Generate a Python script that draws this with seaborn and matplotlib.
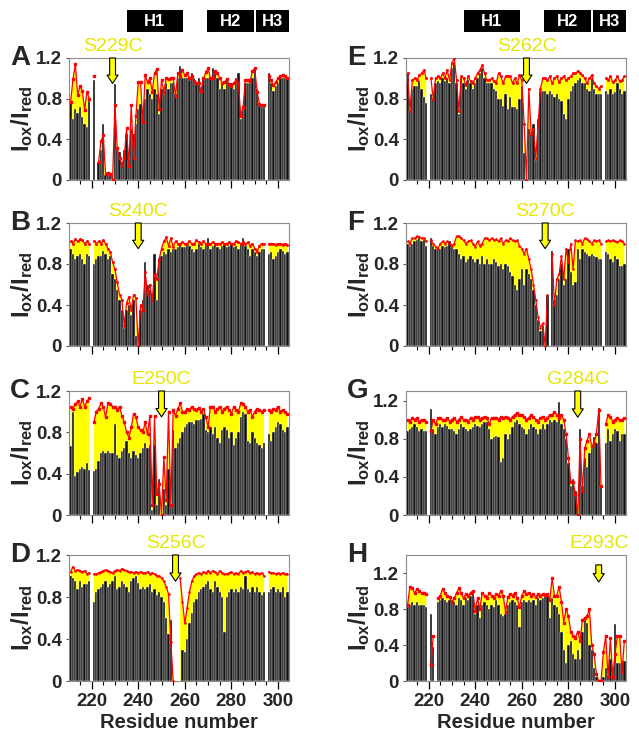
import numpy as np
import pandas as pd
import matplotlib
matplotlib.use("Agg")
import matplotlib.pyplot as plt
import seaborn as sns

N = None
residues = np.arange(211, 305)

# Iox/Ired per residue (211..304), black bars and red line for each mutant
a_bar = [0.76, 0.6, 0.7, 0.66, 0.72, 0.62, 0.55, 0.52, 0.78, N,
         0.98, N, 0.18, 0.3, 0.55, 0.05, 0.06, 0.05, 0.0, 0.94,
         0.3, 0.28, 0.15, 0.3, 0.45, 0.2, 0.5, 0.45, 0.55, 0.7,
         0.75, 0.65, 0.8, 0.9, 0.85, 0.8, 0.9, 0.85, 0.65, 0.9,
         0.85, 0.95, 0.9, 0.95, 0.95, 0.85, 1.0, 1.12, 1.0, 1.0,
         1.0, 0.98, 1.05, 1.0, 0.95, 1.0, 0.88, 1.0, 1.0, 1.0,
         1.0, 1.1, 1.05, 1.0, 0.9, 0.95, 0.9, 1.0, 0.95, 0.95,
         0.9, 1.0, 1.05, 0.6, 0.7, 0.95, 0.95, 0.95, 1.0, 1.1,
         0.9, 0.73, 0.72, 0.72, N, 1.05, 0.95, 0.88, 0.92, 0.95,
         1.0, 1.0, 1.0, 1.0]
a_red = [0.77, 0.99, 1.14, 0.84, 0.92, 0.88, 0.69, 0.87, 0.80, N,
         1.02, N, 0.18, 0.38, 0.44, 0.06, 0.07, 0.06, 0.0, 0.74,
         0.31, 0.22, 0.15, 0.22, 0.51, 0.14, 0.74, 0.22, 0.63, 0.96,
         0.96, 0.57, 1.03, 0.96, 1.0, 0.87, 1.05, 1.09, 0.7, 0.98,
         0.87, 1.0, 0.99, 1.0, 1.0, 0.83, 1.05, 1.02, 1.08, 1.03,
         1.05, 1.0, 1.02, 0.97, 0.95, 0.95, 0.88, 1.0, 1.06, 1.1,
         1.0, 1.0, 1.07, 1.05, 1.0, 0.95, 0.96, 0.99, 0.94, 0.92,
         0.95, 0.98, 0.95, 0.63, 0.72, 0.98, 0.98, 0.97, 1.07, 1.1,
         0.87, 0.75, 0.74, 0.74, N, 1.02, 0.98, 0.93, 0.96, 1.0,
         1.02, 1.03, 1.02, 1.0]

b_bar = [0.95, 0.9, 0.85, 0.88, 0.9, 0.85, 0.8, 0.9, 0.88, N,
         0.8, 0.85, 0.88, 0.88, 0.93, 0.9, 0.85, 0.88, 0.7, 0.65,
         0.55, 0.45, 0.35, 0.18, 0.35, 0.4, 0.3, 0.45, 0.1, 0.0,
         0.35, 0.45, 0.82, 0.6, 0.55, 0.5, 0.9, 0.45, 0.85, 0.88,
         0.92, 0.9, 0.95, 0.92, 0.95, 0.95, 0.97, 1.0, 0.97, 0.97,
         1.0, 0.98, 0.95, 0.92, 0.95, 1.0, 0.97, 0.95, 1.0, 1.05,
         0.95, 0.98, 1.0, 0.97, 0.95, 0.98, 1.0, 0.97, 0.98, 1.0,
         0.97, 0.98, 0.95, 1.0, 1.05, 0.98, 0.95, 0.88, 0.95, 0.92,
         0.88, 0.92, 0.95, 0.95, N, 0.9, 0.92, 0.85, 0.88, 0.92,
         0.95, 0.93, 0.9, 0.92]
b_red = [1.02, 1.0, 1.04, 1.02, 1.04, 1.03, 1.0, 1.02, 1.0, N,
         1.02, 1.0, 1.02, 1.0, 1.03, 1.0, 0.95, 0.92, 0.82, 0.75,
         0.62, 0.5, 0.45, 0.2, 0.42, 0.48, 0.35, 0.5, 0.47, 0.0,
         0.4, 0.35, 0.72, 0.5, 0.6, 0.45, 0.7, 0.65, 0.85, 0.95,
         1.02, 1.06, 0.98, 1.05, 0.97, 1.02, 1.0, 1.0, 1.01, 1.0,
         1.0, 1.02, 1.0, 1.0, 1.03, 1.01, 1.0, 1.02, 1.0, 1.0,
         1.0, 1.01, 1.0, 1.0, 1.0, 1.01, 1.0, 1.0, 1.01, 1.0,
         1.0, 1.02, 1.01, 1.0, 1.01, 1.0, 1.01, 0.98, 1.0, 0.95,
         0.92, 0.98, 1.0, 1.0, N, 1.0, 1.0, 1.0, 0.99, 1.0,
         1.0, 0.99, 1.0, 0.99]

c_bar = [0.67, 1.0, 0.38, 0.42, 0.45, 0.46, 0.45, 0.5, 0.44, N,
         0.43, 0.45, 0.52, 0.6, 0.62, 0.6, 0.62, 0.6, 0.6, 0.88,
         0.58, 0.55, 0.62, 0.65, 0.72, 0.6, 0.55, 0.62, 0.58, 0.55,
         0.6, 0.65, 0.7, 0.65, 0.68, 0.05, 0.68, 0.1, 0.35, 0.0,
         0.25, 0.1, 0.45, 0.08, 0.82, 0.65, 0.7, 0.75, 0.8, 0.85,
         0.88, 0.9, 0.9, 0.88, 0.92, 0.92, 0.93, 0.98, 0.82, 0.8,
         0.85, 0.78, 0.85, 0.75, 0.7, 0.82, 0.85, 0.82, 0.75, 0.8,
         0.68, 0.75, 0.8, 0.95, 1.0, 0.98, 0.72, 0.7, 0.8, 0.75,
         0.7, 0.68, 0.65, 0.7, N, 0.78, 0.72, 0.8, 0.85, 0.9,
         0.88, 0.82, 0.8, 0.85]
c_red = [1.05, 1.03, 1.07, 1.1, 1.05, 1.12, 1.05, 1.1, 1.13, N,
         0.9, 1.0, 1.03, 1.08, 1.05, 0.95, 1.08, 1.07, 1.05, 1.05,
         1.02, 1.05, 0.96, 0.9, 0.8, 0.75, 0.85, 0.98, 0.95, 0.85,
         0.82, 0.8, 0.9, 0.78, 0.96, 0.1, 0.96, 0.2, 0.3, 0.0,
         0.56, 0.15, 1.0, 0.1, 1.02, 0.96, 1.03, 1.08, 1.0, 1.0,
         1.03, 1.02, 1.05, 1.03, 1.02, 1.04, 1.0, 1.03, 0.95, 0.85,
         1.05, 1.05, 1.0, 1.03, 1.05, 1.0, 1.03, 1.05, 1.02, 0.98,
         1.05, 1.02, 1.0, 1.08, 1.07, 1.05, 1.0, 1.02, 0.95, 1.0,
         1.03, 1.02, 1.0, 1.02, N, 1.02, 1.0, 1.03, 1.02, 1.05,
         1.0, 1.02, 1.0, 0.98]

d_bar = [1.0, 0.98, 0.95, 0.88, 0.95, 0.9, 0.92, 0.92, 0.95, N,
         0.75, 0.85, 0.88, 0.9, 0.92, 0.95, 0.9, 0.92, 0.95, 1.0,
         0.88, 0.9, 0.95, 0.92, 0.9, 0.85, 0.95, 0.98, 1.0, 0.93,
         0.88, 0.9, 0.88, 0.9, 0.92, 0.85, 0.88, 0.82, 0.85, 0.8,
         0.75, 0.6, 0.45, 0.58, 0.0, N, N, N, 0.3, 0.28,
         0.4, 0.55, 0.65, 0.75, 0.78, 0.85, 0.88, 0.9, 0.92, 0.95,
         0.88, 0.85, 0.95, 0.9, 0.85, 0.8, 0.47, 0.8, 0.85, 0.88,
         0.85, 0.88, 0.85, 0.9, 0.88, 1.0, 0.88, 0.85, 0.9, 0.85,
         0.9, 0.85, 0.82, 0.85, N, 0.85, 0.88, 0.9, 0.85, 0.88,
         0.85, 0.9, 0.8, 0.85]
d_red = [1.04, 1.09, 1.05, 1.06, 1.05, 1.04, 1.05, 1.02, 1.03, N,
         1.02, 1.02, 1.03, 1.04, 1.05, 1.06, 1.05, 1.04, 1.03, 1.05,
         1.06, 1.05, 1.07, 1.06, 1.05, 1.04, 1.04, 1.03, 1.04, 1.03,
         1.04, 1.03, 1.03, 1.04, 1.02, 1.03, 1.02, 1.0, 1.0, 0.98,
         0.95, 0.9, 0.83, 0.37, 0.0, N, N, 0.98, 0.75, 0.55,
         0.7, 0.85, 0.95, 1.0, 1.02, 1.03, 1.02, 1.04, 1.03, 1.05,
         1.03, 1.05, 1.04, 1.02, 1.05, 1.03, 1.02, 1.02, 1.03, 1.04,
         1.02, 1.03, 1.02, 1.05, 1.03, 1.04, 1.05, 1.03, 1.04, 1.02,
         1.03, 1.02, 1.03, 1.0, N, 1.04, 1.03, 1.03, 1.02, 1.03,
         1.02, 1.03, 1.02, 1.02]

e_bar = [1.05, 0.68, 0.9, 0.92, 0.92, 0.97, 0.9, 0.82, 0.76, N,
         0.85, 0.8, 0.95, 0.97, 0.95, 1.0, 0.97, 1.0, 0.95, 1.1,
         1.15, 0.95, 0.65, 1.0, 0.95, 0.9, 0.98, 0.95, 0.9, 0.95,
         1.0, 1.05, 1.1, 1.0, 0.95, 0.95, 0.95, 0.9, 0.88, 0.8,
         0.8, 0.73, 0.85, 0.7, 0.82, 0.72, 0.72, 0.7, 0.8, 0.92,
         0.27, 0.0, 0.5, 0.45, 0.55, 0.2, 0.6, 0.88, 0.88, 0.88,
         0.85, 0.88, 0.85, 0.82, 0.85, 0.8, 0.78, 0.65, 0.6, 0.8,
         0.88, 0.92, 0.95, 0.98, 1.0, 0.95, 0.95, 0.9, 0.88, 1.0,
         0.9, 0.85, 0.85, 0.85, N, 0.88, 0.85, 0.9, 0.85, 0.87,
         0.95, 0.9, 0.85, 0.88]
e_red = [1.05, 0.68, 0.98, 1.0, 0.98, 1.03, 1.05, 1.08, 1.0, N,
         1.0, 0.8, 1.0, 1.02, 1.0, 1.05, 1.0, 1.08, 0.98, 1.15,
         1.2, 0.98, 0.68, 1.02, 1.0, 0.93, 1.02, 0.97, 0.95, 1.0,
         1.05, 1.08, 1.13, 1.05, 0.98, 0.98, 1.0, 0.97, 0.95, 1.05,
         1.02, 0.95, 1.02, 1.02, 1.02, 0.95, 1.0, 0.95, 1.03, 0.98,
         0.55, 0.0, 0.9, 0.45, 0.5, 0.22, 0.55, 0.9, 1.0, 1.0,
         0.98, 1.02, 0.95, 1.0, 1.02, 0.96, 1.0, 1.02, 0.98, 1.0,
         1.02, 1.05, 1.05, 1.07, 1.05, 1.03, 1.0, 0.95, 1.0, 1.03,
         0.95, 0.92, 0.9, 0.92, N, 1.0, 0.98, 1.02, 0.96, 0.98,
         1.02, 0.97, 0.98, 1.02]

f_bar = [1.0, 0.98, 1.0, 1.02, 1.03, 1.05, 1.02, 1.03, 0.98, N,
         1.05, 0.98, 0.95, 0.95, 0.95, 0.98, 0.97, 0.98, 1.02, 0.97,
         0.95, 0.95, 0.9, 0.85, 0.88, 0.82, 0.85, 0.88, 0.85, 0.82,
         0.85, 0.8, 0.88, 0.8, 0.85, 0.8, 0.8, 0.85, 0.82, 0.78,
         0.8, 0.75, 0.8, 0.78, 0.72, 0.68, 0.6, 0.55, 0.65, 0.75,
         0.6, 0.75, 0.7, 0.65, 0.55, 0.4, 0.25, 0.15, 0.2, 0.0,
         0.5, N, 0.93, 0.45, 0.5, 0.65, 0.8, 0.6, 0.65, 0.95,
         0.72, 0.6, 0.62, 0.95, 0.85, 0.95, 0.92, 0.9, 0.88, 0.9,
         0.88, 0.87, 0.85, 0.85, N, 0.92, 0.9, 0.85, 0.82, 0.88,
         0.85, 0.78, 0.78, 0.8]
f_red = [1.02, 1.0, 1.05, 1.05, 1.07, 1.06, 1.05, 1.05, 1.02, N,
         1.03, 1.0, 0.97, 0.95, 1.0, 1.02, 1.0, 1.02, 1.0, 0.98,
         1.0, 1.07, 1.07, 1.05, 1.03, 1.0, 1.02, 1.03, 1.0, 0.97,
         1.02, 0.98, 1.0, 1.05, 1.05, 1.03, 1.05, 1.03, 1.04, 1.02,
         1.05, 1.0, 1.03, 1.02, 1.05, 1.03, 1.02, 1.03, 0.98, 0.95,
         0.9, 0.95, 0.85, 0.75, 0.6, 0.45, 0.28, 0.18, 0.22, 0.0,
         0.5, N, 0.9, 0.4, 0.65, 0.7, 0.88, 0.65, 0.95, 0.82,
         1.0, 0.75, 1.03, 1.02, 1.03, 1.0, 1.05, 1.04, 1.02, 1.0,
         1.03, 1.02, 1.03, 1.0, N, 1.02, 1.03, 1.02, 1.03, 1.02,
         1.01, 1.03, 1.02, 1.0]

g_bar = [0.88, 0.9, 0.92, 0.95, 0.92, 0.88, 0.9, 0.88, 0.88, N,
         1.11, 0.9, 0.85, 0.92, 0.95, 0.92, 0.95, 0.93, 0.9, 0.9,
         0.88, 0.85, 0.9, 0.95, 0.92, 0.9, 0.88, 0.9, 0.92, 0.95,
         0.93, 0.92, 0.95, 0.97, 0.98, 0.9, 0.8, 0.82, 0.83, 0.82,
         0.56, 0.6, 0.85, 0.8, 0.85, 0.92, 0.98, 1.0, 0.95, 0.92,
         0.9, 0.85, 0.9, 0.95, 0.92, 0.9, 0.85, 0.9, 0.95, 0.9,
         0.95, 1.0, 0.98, 1.0, 0.98, 1.18, 0.95, 0.9, 0.8, 0.55,
         0.3, 0.38, 0.25, 0.0, 0.9, 0.3, 0.6, 0.5, 0.65, 0.7,
         0.82, 0.75, 1.12, 0.3, N, 0.75, 0.9, 0.78, 0.85, 0.9,
         0.88, 0.78, 0.85, 0.85]
g_red = [1.0, 0.98, 1.02, 1.0, 1.02, 0.98, 1.0, 1.0, 0.98, N,
         0.88, 1.0, 0.95, 1.02, 1.02, 1.0, 1.0, 1.02, 0.98, 1.0,
         1.02, 0.98, 1.0, 1.03, 1.0, 1.0, 0.98, 1.02, 1.0, 1.03,
         1.03, 1.0, 1.02, 1.03, 1.02, 0.95, 1.02, 1.02, 1.02, 1.0,
         1.03, 1.02, 1.03, 1.02, 1.0, 1.03, 1.05, 1.07, 1.05, 1.05,
         1.03, 1.0, 1.02, 1.05, 1.03, 1.0, 0.98, 1.02, 1.03, 1.0,
         1.02, 1.05, 1.05, 1.08, 1.05, 1.02, 1.05, 1.0, 0.85, 0.6,
         0.35, 0.35, 0.22, 0.0, 0.8, 0.25, 0.7, 0.78, 0.85, 0.72,
         0.75, 0.85, 1.1, 0.3, N, 0.95, 1.05, 1.03, 0.98, 1.0,
         1.02, 1.0, 1.0, 1.02]

h_bar = [0.82, 0.85, 0.88, 0.85, 0.88, 0.85, 0.85, 0.85, 0.82, N,
         0.75, 0.38, N, 0.88, 0.9, 0.92, 0.9, 0.88, 0.9, 0.88,
         0.88, 0.85, 0.92, 0.9, 0.85, 0.92, 0.9, 0.95, 1.0, 0.75,
         0.85, 0.7, 0.85, 0.88, 0.85, 0.8, 0.85, 0.82, 0.9, 0.85,
         0.75, 0.72, 0.75, 0.85, 0.88, 0.9, 0.88, 0.85, 0.6, 0.88,
         0.9, 0.88, 0.9, 0.88, 0.9, 0.85, 0.92, 0.9, 0.92, 0.95,
         0.95, 0.7, 0.92, 0.85, 0.82, 0.75, 0.55, 0.35, 0.2, 0.4,
         0.45, 0.3, 0.25, 0.35, 0.25, 0.55, 0.68, 0.65, 0.4, 0.35,
         0.15, 0.05, 0.0, 0.0, 0.05, 0.15, 0.05, 0.25, 0.1, 0.63,
         0.2, 0.2, 0.22, 0.22]
h_red = [0.85, 1.05, 1.03, 0.98, 1.02, 1.0, 0.98, 0.98, 0.97, N,
         0.18, 0.5, N, 0.92, 0.95, 1.02, 0.98, 0.95, 0.93, 0.88,
         0.92, 0.98, 1.03, 0.98, 0.92, 0.97, 0.95, 0.98, 1.0, 0.78,
         0.92, 0.8, 0.98, 0.95, 0.92, 0.98, 0.95, 0.92, 0.97, 0.95,
         1.0, 0.95, 0.77, 0.93, 0.97, 0.95, 0.98, 0.92, 0.82, 0.95,
         1.0, 0.97, 0.98, 0.95, 0.97, 0.93, 0.97, 0.95, 0.97, 0.96,
         0.97, 0.9, 1.14, 0.95, 0.95, 1.05, 0.88, 0.65, 0.8, 0.72,
         0.55, 0.5, 0.48, 0.55, 0.45, 0.68, 0.7, 0.72, 0.8, 0.4,
         0.3, 0.08, 0.0, 0.0, 0.32, 0.5, 0.05, 0.48, 0.05, 0.3,
         0.5, 0.5, 0.1, 0.45]

letters = ["A", "B", "C", "D", "E", "F", "G", "H"]
mutants = ["S229C", "S240C", "E250C", "S256C", "S262C", "S270C", "G284C", "E293C"]
mut_res = [229, 240, 250, 256, 262, 270, 284, 293]
bars = [a_bar, b_bar, c_bar, d_bar, e_bar, f_bar, g_bar, h_bar]
reds = [a_red, b_red, c_red, d_red, e_red, f_red, g_red, h_red]
ytop = [1.2, 1.2, 1.2, 1.2, 1.2, 1.2, 1.3, 1.4]
arrow_top = [1.2, 1.2, 1.2, 1.2, 1.2, 1.2, 1.3, 1.29]
arrow_tip = [0.95, 0.95, 0.95, 0.95, 0.95, 0.95, 1.025, 1.1]
marker_size = [2.0, 1.0, 1.6, 0.8, 1.0, 0.8, 1.5, 2.0]

helix_names = ["H1", "H2", "H3"]
helix_start = [235.2, 269.6, 290.5]
helix_end = [259.2, 289.7, 304.7]

sns.set_theme(style="white")
plt.rcParams["font.family"] = ["Liberation Sans", "DejaVu Sans"]
plt.rcParams["font.weight"] = "bold"
plt.rcParams["mathtext.fontset"] = "custom"
plt.rcParams["mathtext.bf"] = "Liberation Sans:bold"
plt.rcParams["mathtext.rm"] = "Liberation Sans:bold"

W, H = 639, 737
fig = plt.figure(figsize=(W / 100, H / 100), dpi=100)

yellow = "#ffff00"
text_yellow = "#e6e600"
xlim = (210.3, 304.7)

# pixel boxes of the panels
col_left = [69, 406]
row_top = [58, 223, 391, 555]
row_bot = [180, 346, 515, 681]
ax_w = 220

for i in range(8):
    col, row = i // 4, i % 4
    x0, yt, yb = col_left[col], row_top[row], row_bot[row]
    ax = fig.add_axes([x0 / W, 1 - yb / H, ax_w / W, (yb - yt) / H])

    df = pd.DataFrame({"res": residues,
                       "bar": np.array(bars[i], dtype=float),
                       "red": np.array(reds[i], dtype=float)})

    # yellow area under the red curve, black bars on top
    ax.fill_between(df["res"], 0, df["red"], color=yellow, lw=0, zorder=1)
    d = df.dropna(subset=["bar"])
    sns.barplot(data=d, x="res", y="bar", native_scale=True, width=1.0,
                color="#111111", saturation=1, edgecolor="white", linewidth=0.28,
                errorbar=None, ax=ax, zorder=2)
    ax.plot(df["res"], df["red"], color="red", lw=0.9, marker="s",
            ms=marker_size[i], mec="red", zorder=3)

    ax.set_xlim(*xlim)
    ax.set_ylim(0, ytop[i])
    ax.set_yticks([0, 0.4, 0.8, 1.2])
    ax.set_yticklabels(["0", "0.4", "0.8", "1.2"])
    ax.set_xticks([220, 240, 260, 280, 300])
    ax.set_xticks(np.arange(215, 305, 5), minor=True)
    ax.tick_params(axis="x", which="major", bottom=True, length=6, width=0.9,
                   color="black", direction="out", labelsize=13.5, pad=3)
    ax.tick_params(axis="x", which="minor", bottom=True, length=3, width=0.8,
                   color="black", direction="out")
    ax.tick_params(axis="y", left=True, length=2, width=0.8, color="#555555",
                   labelsize=13.5, pad=3)
    for s in ax.spines.values():
        s.set_color("#8c8c8c")
        s.set_linewidth(0.8)

    ax.set_ylabel(r"$\mathbf{I_{ox}/I_{red}}$", fontsize=17)
    ax.yaxis.set_label_coords(-0.155, 0.5)
    if row == 3:
        ax.set_xlabel("Residue number", fontsize=14.5, fontweight="bold")
        ax.xaxis.set_label_coords(0.5, -0.25)
        ax.xaxis.label.set_va("top")
    else:
        ax.set_xlabel("")
        ax.tick_params(axis="x", labelbottom=False)

    # panel letter
    fig.text((x0 - 59) / W, 1 - (yt + 7) / H, letters[i], fontsize=20,
             fontweight="bold", ha="left", va="baseline")

    # mutant label and arrow
    m = mut_res[i]
    ax.annotate(mutants[i], xy=(m, 1.0), xycoords=("data", "axes fraction"),
                xytext=(0, 8), textcoords="offset points", ha="center",
                va="center", color=text_yellow, fontsize=14,
                fontweight="normal", annotation_clip=False)
    ax.annotate("", xy=(m, arrow_tip[i]), xytext=(m, arrow_top[i]),
                arrowprops=dict(arrowstyle="simple,head_length=0.6,head_width=0.8,tail_width=0.42",
                                mutation_scale=10, fc=yellow, ec="black", lw=0.8,
                                shrinkA=0, shrinkB=0),
                annotation_clip=False, zorder=5)

    # helix bars above the top row
    if row == 0:
        hx = fig.add_axes([x0 / W, 1 - 32 / H, ax_w / W, 22 / H])
        hx.set_xlim(*xlim)
        hx.set_ylim(0, 1)
        hx.axis("off")
        for name, s, e in zip(helix_names, helix_start, helix_end):
            hx.axvspan(s, e, color="black", lw=0)
            hx.text((s + e) / 2, 0.47, name, color="white", fontsize=12,
                    fontweight="bold", ha="center", va="center")

fig.savefig("out.png", dpi=100)
